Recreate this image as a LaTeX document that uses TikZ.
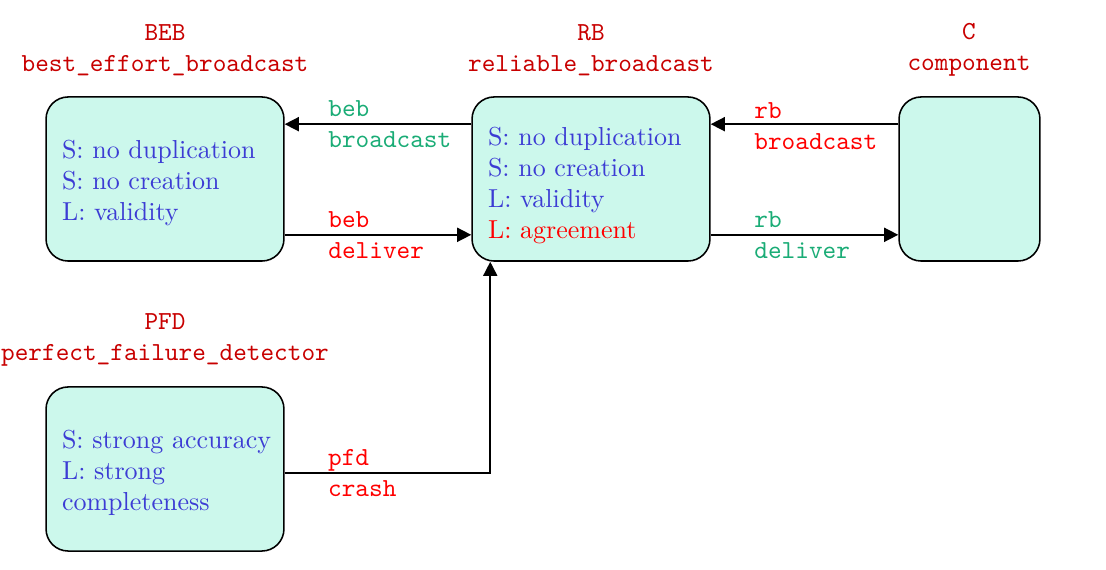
\documentclass[tikz,border=0pt]{standalone}
\usetikzlibrary{arrows.meta,calc}
\definecolor{boxfill}{RGB}{204,248,236}
\definecolor{boxtext}{RGB}{60,60,212}
\definecolor{titlered}{RGB}{200,0,0}
\definecolor{lblred}{RGB}{255,0,0}
\definecolor{lblgreen}{RGB}{26,172,118}
\tikzset{
  module/.style={draw=black, line width=0.6pt, fill=boxfill, rounded corners=8.5pt,
    minimum width=91.5pt, minimum height=63.1pt, inner xsep=6.15pt, inner ysep=0pt,
    text width=79.2pt, align=left, text=boxtext, font={\normalsize\hyphenpenalty=10000\relax}},
  cbox/.style={draw=black, line width=0.6pt, fill=boxfill, rounded corners=8.5pt,
    minimum width=54.2pt, minimum height=63.1pt},
  title/.style={align=center, text=titlered, font=\ttfamily, inner sep=0pt},
  arr/.style={line width=0.6pt, -{Triangle[length=5.4pt,width=5.4pt]}},
  lbl/.style={anchor=west, align=left, font=\ttfamily, inner sep=0pt, xshift=16.5pt},
}
\begin{document}
\begin{tikzpicture}[x=0.3846pt,y=-0.3846pt]
\useasboundingbox (0,0) rectangle (1106,570);
% boxes
\node[module] (beb) at (165,179) {\rule{0pt}{10pt}S: no duplication\\S: no creation\\L: validity};
\node[module] (rb) at (591,179) {\rule{0pt}{12pt}S: no duplication\\S: no creation\\L: validity\\\textcolor{lblred}{L: agreement}};
\node[cbox] (c) at (969.5,179) {};
\node[module] (pfd) at (165,469) {\rule{0pt}{10pt}\mbox{S: strong accuracy}\\L: strong\\completeness};
% titles
\node[title] (tbeb) at (165,50) {BEB\\best\_effort\_broadcast};
\node[title] (trb) at (591,50) {RB\\reliable\_broadcast};
\node[title] (tc) at (969,50) {C\\component};
\node[title] (tpfd) at (165,340) {PFD\\perfect\_failure\_detector};
% connection points
\coordinate (rbNW) at ($(rb.north west)+(0,28)$);
\coordinate (rbNE) at ($(rb.north east)+(0,28)$);
\coordinate (rbSW) at ($(rb.south west)+(0,-27)$);
\coordinate (rbSE) at ($(rb.south east)+(0,-27)$);
\coordinate (bebNE) at ($(beb.north east)+(0,28)$);
\coordinate (bebSE) at ($(beb.south east)+(0,-27)$);
\coordinate (cNW) at ($(c.north west)+(0,28)$);
\coordinate (cSW) at ($(c.south west)+(0,-27)$);
\coordinate (rbB) at ($(rb.south west)+(19,0)$);
\coordinate (pfdE) at ($(pfd.east)+(0,4)$);
% connectors
\draw[arr] (rbNW) -- (bebNE) node[at end, lbl, text=lblgreen] {beb\\broadcast};
\draw[arr] (bebSE) -- (rbSW) node[at start, lbl, text=lblred] {beb\\deliver};
\draw[arr] (cNW) -- (rbNE) node[at end, lbl, text=lblred, yshift=-0.8pt] {rb\\broadcast};
\draw[arr] (rbSE) -- (cSW) node[at start, lbl, text=lblgreen] {rb\\deliver};
\draw[arr] (pfdE) -| (rbB);
\node[lbl, text=lblred] (lpfd) at (pfdE) {pfd\\crash};
\end{tikzpicture}
\end{document}
